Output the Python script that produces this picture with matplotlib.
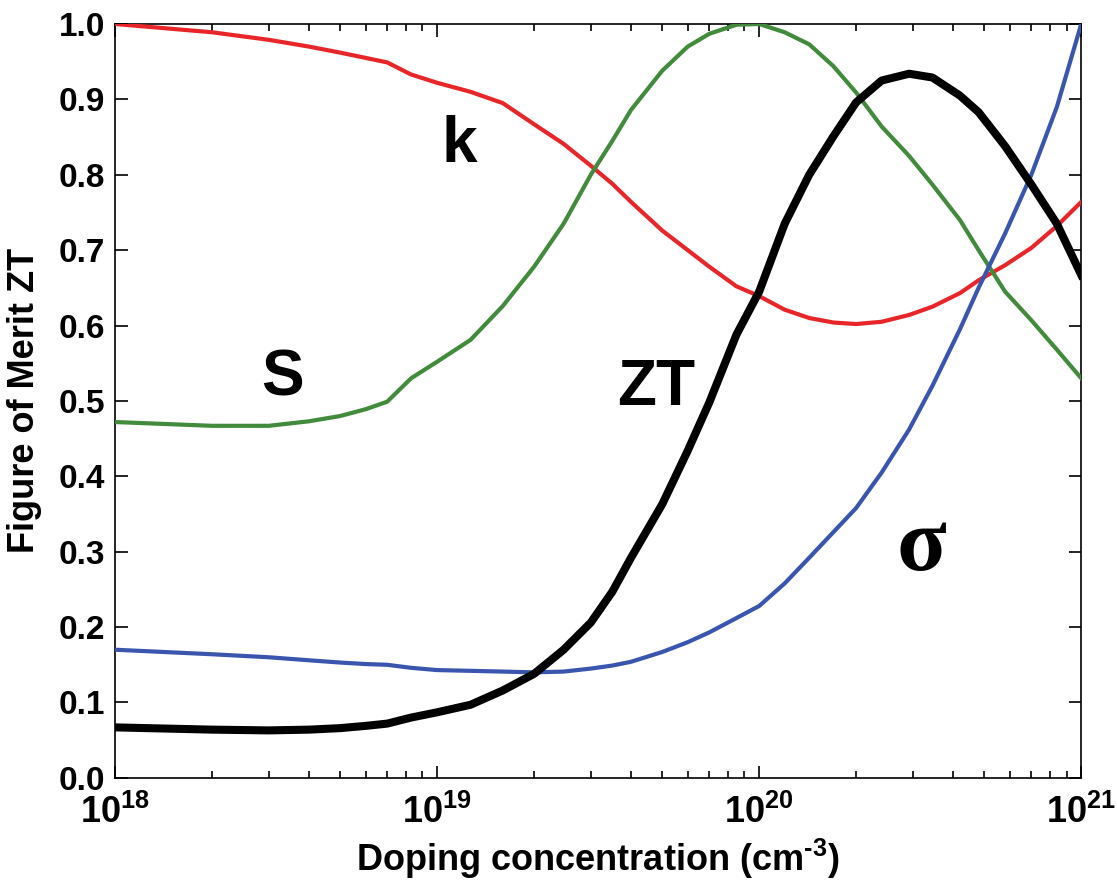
import numpy as np
import matplotlib
matplotlib.use('Agg')
import matplotlib.pyplot as plt
from matplotlib.ticker import FixedLocator, LogLocator, FuncFormatter, MultipleLocator

plt.rcParams['font.family'] = ['Liberation Sans', 'DejaVu Sans']
plt.rcParams['font.weight'] = 'bold'
plt.rcParams['mathtext.fontset'] = 'custom'
plt.rcParams['mathtext.rm'] = 'Liberation Sans:bold'
plt.rcParams['mathtext.bf'] = 'Liberation Sans:bold'

# ---------------------------------------------------------------------------
# Data (doping in cm^-3, normalised values)
# ---------------------------------------------------------------------------
dop = np.array([1e18, 2e18, 3e18, 4e18, 5e18, 6e18, 7e18, 8.3e18, 1e19,
                1.27e19, 1.6e19, 2e19, 2.47e19, 3e19, 3.5e19, 4e19, 5e19, 6e19,
                7e19, 8.5e19, 1e20, 1.2e20, 1.43e20, 1.7e20, 2e20, 2.4e20,
                2.92e20, 3.45e20, 4.2e20, 4.8e20, 5.8e20, 7e20, 8.4e20, 1e21])

k_vals = [1.000, 0.989, 0.979, 0.970, 0.962, 0.955, 0.949, 0.933, 0.922,
          0.910, 0.895, 0.867, 0.841, 0.812, 0.788, 0.764, 0.726, 0.700,
          0.678, 0.652, 0.639, 0.621, 0.610, 0.604, 0.602, 0.605,
          0.614, 0.625, 0.643, 0.660, 0.680, 0.703, 0.732, 0.764]

s_vals = [0.472, 0.467, 0.467, 0.473, 0.480, 0.489, 0.499, 0.530, 0.552,
          0.581, 0.626, 0.678, 0.735, 0.800, 0.845, 0.886, 0.938, 0.970,
          0.987, 0.999, 1.000, 0.989, 0.973, 0.944, 0.909, 0.864,
          0.825, 0.787, 0.740, 0.700, 0.645, 0.607, 0.568, 0.530]

sig_vals = [0.170, 0.164, 0.160, 0.156, 0.153, 0.151, 0.150, 0.146, 0.143,
            0.142, 0.141, 0.140, 0.141, 0.145, 0.149, 0.154, 0.167, 0.180,
            0.193, 0.212, 0.228, 0.258, 0.292, 0.326, 0.358, 0.405,
            0.462, 0.520, 0.595, 0.650, 0.722, 0.800, 0.890, 1.000]

zt_vals = [0.067, 0.064, 0.063, 0.064, 0.066, 0.069, 0.072, 0.080, 0.087,
           0.097, 0.116, 0.138, 0.170, 0.206, 0.247, 0.292, 0.363, 0.434,
           0.498, 0.588, 0.645, 0.735, 0.800, 0.851, 0.896, 0.925,
           0.934, 0.929, 0.905, 0.883, 0.838, 0.787, 0.735, 0.667]

labels = ['k', 'S', 'ZT', 'σ']
label_x = [1.17e19, 3.3e18, 4.8e19, 3.2e20]
label_y = [0.84, 0.53, 0.517, 0.305]

# ---------------------------------------------------------------------------
# Figure
# ---------------------------------------------------------------------------
fig = plt.figure(figsize=(11.17, 8.88), dpi=100)
ax = fig.add_axes([0.103, 0.124, 0.865, 0.849])

ax.plot(dop, k_vals, color='#e8262a', lw=3.0, zorder=3)
ax.plot(dop, s_vals, color='#428a3c', lw=3.0, zorder=3)
ax.plot(dop, sig_vals, color='#3a55ad', lw=3.0, zorder=3)
ax.plot(dop, zt_vals, color='black', lw=5.8, zorder=4)

ax.set_xscale('log')
ax.set_xlim(1e18, 1e21)
ax.set_ylim(0, 1.0)

ax.yaxis.set_major_locator(MultipleLocator(0.1))
ax.yaxis.set_major_formatter(FuncFormatter(lambda v, p: f'{v:.1f}'))
ax.xaxis.set_major_locator(FixedLocator([1e18, 1e19, 1e20, 1e21]))
ax.xaxis.set_minor_locator(LogLocator(base=10, subs=np.arange(2, 10)))
ax.xaxis.set_major_formatter(FuncFormatter(
    lambda v, p: r'$\mathbf{10^{%d}}$' % int(round(np.log10(v)))))

ax.tick_params(which='both', direction='in', top=True, right=True, width=1.2)
ax.tick_params(which='major', length=9)
ax.tick_params(which='minor', length=5)
ax.tick_params(axis='y', labelsize=24, pad=7)
ax.tick_params(axis='x', labelsize=26, pad=12)
for sp in ax.spines.values():
    sp.set_linewidth(1.2)

ax.set_xlabel(r'Doping concentration (cm$^{\text{-3}}$)', fontsize=26,
              fontweight='bold', labelpad=4)
ax.set_ylabel('Figure of Merit ZT', fontsize=26, fontweight='bold', labelpad=12)

for t, x, y in zip(labels, label_x, label_y):
    if t == 'σ':
        ax.text(x, y, t, fontsize=66, fontweight='bold', ha='center',
                va='center', family=['Liberation Serif', 'DejaVu Serif'],
                zorder=5)
    else:
        ax.text(x, y, t, fontsize=46, fontweight='bold', ha='center',
                va='center', zorder=5)

fig.savefig('out.png', dpi=100)
